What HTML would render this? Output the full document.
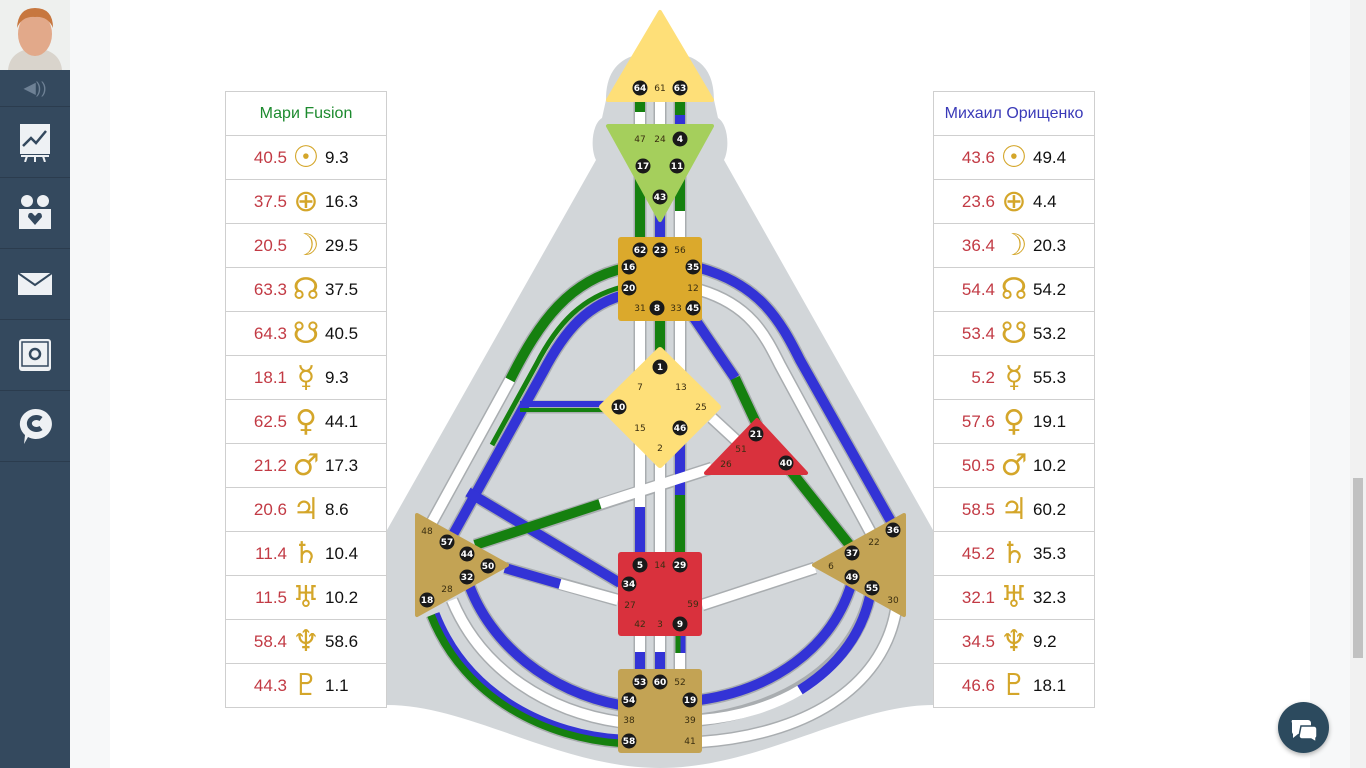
<!DOCTYPE html>
<html><head><meta charset="utf-8"><style>
*{margin:0;padding:0;box-sizing:border-box}
body{width:1366px;height:768px;overflow:hidden;background:#f7f8f9;font-family:"Liberation Sans","DejaVu Sans",sans-serif;position:relative}
#side{position:absolute;left:0;top:0;width:70px;height:768px;background:#34495e}
#photo{position:absolute;left:0;top:0;width:70px;height:70px;background:#eef0ee;overflow:hidden}
.it{position:absolute;left:0;width:70px;border-bottom:1px solid #2b3c4e;display:flex;align-items:center;justify-content:center;color:#eef1f4}
#main{position:absolute;left:110px;top:0;width:1200px;height:768px;background:#fff}
table{position:absolute;border-collapse:collapse;background:#fff}
td{border:1px solid #cfcfcf;height:44px;text-align:center;font-size:17px;white-space:nowrap}
td.h{font-size:16px}
.r{color:#c23a44;display:inline-block;width:44px;text-align:right}
.s{color:#d4a62a;font-family:"DejaVu Sans",sans-serif;font-size:30px;line-height:20px;display:inline-block;width:38px;text-align:center;vertical-align:-4px}
.b{color:#111;display:inline-block;width:44px;text-align:left}
#scroll{position:absolute;right:0;top:0;width:16px;height:768px;background:#f1f1f1}
#thumb{position:absolute;right:3px;top:478px;width:10px;height:180px;background:#c1c1c1}
#chat{position:absolute;left:1278px;top:702px;width:51px;height:51px;border-radius:50%;background:#2c4a5e;box-shadow:0 2px 5px rgba(0,0,0,.3)}
</style></head><body>
<div id="side">
<div id="photo"><svg width="70" height="70"><rect width="70" height="70" fill="#eef0ee"/><path d="M8,70 Q10,50 35,48 Q60,50 62,70Z" fill="#d9d4cc"/><ellipse cx="35" cy="34" rx="17" ry="22" fill="#e2a98a"/><path d="M17,28 Q18,8 35,8 Q53,8 53,28 Q48,16 35,17 Q22,16 17,28Z" fill="#c7773f"/></svg></div>
<div class="it" style="top:70px;height:37px;font-size:16px;color:#6e8195">◀))</div>
<div class="it" style="top:107px;height:71px"><svg width="36" height="40"><rect x="3" y="2" width="30" height="30" fill="#eef1f4"/><path d="M6,24 L14,16 L19,21 L29,9" stroke="#34495e" stroke-width="2.5" fill="none"/><path d="M4,34 H32 M10,34 L8,40 M18,34 V40 M26,34 L28,40" stroke="#eef1f4" stroke-width="2"/></svg></div>
<div class="it" style="top:178px;height:71px"><svg width="36" height="38"><circle cx="10" cy="7" r="6" fill="#eef1f4"/><circle cx="26" cy="7" r="6" fill="#eef1f4"/><rect x="2" y="15" width="32" height="20" fill="#eef1f4"/><path d="M18,31 L11,23 Q11,18 15,19 L18,22 L21,19 Q25,18 25,23Z" fill="#34495e"/></svg></div>
<div class="it" style="top:249px;height:71px"><svg width="34" height="22"><rect width="34" height="22" fill="#eef1f4"/><path d="M0,0 L17,12 L34,0" stroke="#34495e" stroke-width="2" fill="none"/></svg></div>
<div class="it" style="top:320px;height:71px"><svg width="34" height="34"><rect x="1" y="1" width="32" height="32" rx="3" fill="#eef1f4"/><rect x="4" y="4" width="26" height="24" fill="none" stroke="#34495e" stroke-width="1.5"/><circle cx="17" cy="16" r="5" fill="none" stroke="#34495e" stroke-width="2.5"/></svg></div>
<div class="it" style="top:391px;height:71px"><svg width="34" height="38"><path d="M17,2 A16,15 0 1 1 10,30 L6,37 L7,28 A16,15 0 0 1 17,2Z" fill="#eef1f4"/><path d="M23,12 A7,6 0 1 0 23,21" stroke="#34495e" stroke-width="5" fill="none"/></svg></div>
</div>
<div id="main"></div>

<table style="left:225px;top:91px;width:162px">
<tr><td class="h" style="color:#1c8a2e">Мари Fusion</td></tr>
<tr><td><span class="r">40.5</span><span class="s">☉</span><span class="b">9.3</span></td></tr>
<tr><td><span class="r">37.5</span><span class="s">⊕</span><span class="b">16.3</span></td></tr>
<tr><td><span class="r">20.5</span><span class="s">☽</span><span class="b">29.5</span></td></tr>
<tr><td><span class="r">63.3</span><span class="s">☊</span><span class="b">37.5</span></td></tr>
<tr><td><span class="r">64.3</span><span class="s">☋</span><span class="b">40.5</span></td></tr>
<tr><td><span class="r">18.1</span><span class="s">☿</span><span class="b">9.3</span></td></tr>
<tr><td><span class="r">62.5</span><span class="s">♀</span><span class="b">44.1</span></td></tr>
<tr><td><span class="r">21.2</span><span class="s">♂</span><span class="b">17.3</span></td></tr>
<tr><td><span class="r">20.6</span><span class="s">♃</span><span class="b">8.6</span></td></tr>
<tr><td><span class="r">11.4</span><span class="s">♄</span><span class="b">10.4</span></td></tr>
<tr><td><span class="r">11.5</span><span class="s">♅</span><span class="b">10.2</span></td></tr>
<tr><td><span class="r">58.4</span><span class="s">♆</span><span class="b">58.6</span></td></tr>
<tr><td><span class="r">44.3</span><span class="s">♇</span><span class="b">1.1</span></td></tr>
</table>
<table style="left:933px;top:91px;width:162px">
<tr><td class="h" style="color:#3a3ab8">Михаил Орищенко</td></tr>
<tr><td><span class="r">43.6</span><span class="s">☉</span><span class="b">49.4</span></td></tr>
<tr><td><span class="r">23.6</span><span class="s">⊕</span><span class="b">4.4</span></td></tr>
<tr><td><span class="r">36.4</span><span class="s">☽</span><span class="b">20.3</span></td></tr>
<tr><td><span class="r">54.4</span><span class="s">☊</span><span class="b">54.2</span></td></tr>
<tr><td><span class="r">53.4</span><span class="s">☋</span><span class="b">53.2</span></td></tr>
<tr><td><span class="r">5.2</span><span class="s">☿</span><span class="b">55.3</span></td></tr>
<tr><td><span class="r">57.6</span><span class="s">♀</span><span class="b">19.1</span></td></tr>
<tr><td><span class="r">50.5</span><span class="s">♂</span><span class="b">10.2</span></td></tr>
<tr><td><span class="r">58.5</span><span class="s">♃</span><span class="b">60.2</span></td></tr>
<tr><td><span class="r">45.2</span><span class="s">♄</span><span class="b">35.3</span></td></tr>
<tr><td><span class="r">32.1</span><span class="s">♅</span><span class="b">32.3</span></td></tr>
<tr><td><span class="r">34.5</span><span class="s">♆</span><span class="b">9.2</span></td></tr>
<tr><td><span class="r">46.6</span><span class="s">♇</span><span class="b">18.1</span></td></tr>
</table>

<svg style="position:absolute;left:0;top:0" width="1366" height="768" font-family="DejaVu Sans,sans-serif">
<path d="M660,52 C622,52 606,68 606,100 L602,118 C592,124 590,148 596,160 L387,530 L387,705 C470,705 560,768 660,768 C760,768 850,705 933,705 L933,530 L724,160 C730,148 728,124 718,118 L714,100 C714,68 698,52 660,52Z" fill="#d2d6d9"/>
<g fill="none" stroke-linecap="butt">
<g stroke="#a9adb0" stroke-width="13">
<path d="M640,100 V130 M660,100 V130 M680,100 V130"/>
<path d="M640,160 V240 M660,200 V240 M680,160 V240"/>
<path d="M640,320 V400 M660,320 V360 M680,320 V400"/>
<path d="M640,420 V555 M660,450 V555 M680,430 V555"/>
<path d="M640,636 V670 M660,636 V670 M680,636 V670"/>
<path d="M625,268 C570,280 540,320 510,380 L432,522"/>
<path d="M628,294 C588,303 565,330 543,372 L450,540"/>
<path d="M520,407 H612"/>
<path d="M468,492 L620,583"/>
<path d="M475,545 L712,468"/>
<path d="M505,568 L618,600"/>
<path d="M468,582 C490,645 550,692 620,705"/>
<path d="M452,600 C482,672 550,712 620,722"/>
<path d="M432,615 C466,700 550,737 620,742"/>
<path d="M700,268 C760,285 780,320 800,360 L893,525"/>
<path d="M700,290 C750,305 765,335 780,365 L872,535"/>
<path d="M690,312 L735,378 L757,425"/>
<path d="M790,470 L852,548"/>
<path d="M712,418 L738,442"/>
<path d="M702,605 L815,568"/>
<path d="M700,700 C770,690 832,650 852,582"/>
<path d="M700,720 C780,710 852,670 870,596"/>
<path d="M700,742 C802,735 882,690 896,610"/>
</g>
<g stroke-width="10">
<path d="M640,100 V112" stroke="#15800f"/><path d="M640,112 V130" stroke="#fff"/>
<path d="M660,100 V130" stroke="#fff"/>
<path d="M680,100 V115" stroke="#15800f"/><path d="M680,115 V130" stroke="#3333d6"/>
<path d="M640,160 V240" stroke="#15800f"/>
<path d="M660,200 V240" stroke="#3333d6"/>
<path d="M680,160 V211" stroke="#15800f"/><path d="M680,211 V240" stroke="#fff"/>
<path d="M640,320 V400" stroke="#fff"/>
<path d="M660,320 V360" stroke="#15800f"/>
<path d="M680,320 V400" stroke="#fff"/>
<path d="M640,420 V507" stroke="#fff"/><path d="M640,507 V555" stroke="#3333d6"/>
<path d="M660,450 V555" stroke="#fff"/>
<path d="M680,440 V495" stroke="#3333d6"/><path d="M680,495 V555" stroke="#15800f"/>
<path d="M640,636 V652" stroke="#fff"/><path d="M640,652 V670" stroke="#3333d6"/>
<path d="M660,636 V652" stroke="#fff"/><path d="M660,652 V670" stroke="#3333d6"/>
<path d="M678,636 V653" stroke="#15800f" stroke-width="5"/><path d="M683,636 V653" stroke="#3333d6" stroke-width="5"/><path d="M680,653 V670" stroke="#fff"/>
<path d="M625,268 C570,280 540,320 510,380" stroke="#15800f"/><path d="M510,380 L432,522" stroke="#fff"/>
<path d="M628,294 C588,303 565,330 543,372 L450,540" stroke="#3333d6"/>
<path d="M622,287 C583,297 558,322 536,365 L492,445" stroke="#15800f" stroke-width="5"/>
<path d="M520,404 H612" stroke="#3333d6" stroke-width="6"/><path d="M520,410 H612" stroke="#15800f" stroke-width="4"/>
<path d="M468,492 L620,583" stroke="#3333d6"/>
<path d="M475,545 L600,504" stroke="#15800f"/><path d="M600,504 L712,468" stroke="#fff"/>
<path d="M505,568 L560,584" stroke="#3333d6"/><path d="M560,584 L618,600" stroke="#fff"/>
<path d="M468,582 C490,645 550,692 620,705" stroke="#3333d6"/>
<path d="M452,600 C482,672 550,712 620,722" stroke="#fff"/>
<path d="M432,615 C466,700 550,737 620,742" stroke="#15800f"/>
<path d="M437,613 C470,697 552,733 620,737" stroke="#3333d6" stroke-width="5"/>
<path d="M700,268 C760,285 780,320 800,360 L893,525" stroke="#3333d6"/>
<path d="M700,290 C750,305 765,335 780,365 L872,535" stroke="#fff"/>
<path d="M690,312 L735,378" stroke="#3333d6"/><path d="M735,378 L757,425" stroke="#15800f"/>
<path d="M790,470 L852,548" stroke="#15800f"/>
<path d="M712,418 L738,442" stroke="#fff"/>
<path d="M702,605 L815,568" stroke="#fff"/>
<path d="M700,700 C770,690 832,650 852,582" stroke="#3333d6"/>
<path d="M700,720 C740,717 775,705 800,690" stroke="#fff"/><path d="M800,690 C840,665 862,632 870,596" stroke="#3333d6"/>
<path d="M700,742 C802,735 882,690 896,610" stroke="#fff"/>
</g></g>
<g stroke-linejoin="round">
<path d="M660,12 L712,100 L608,100Z" fill="#fedf78" stroke="#fedf78" stroke-width="4"/>
<path d="M608,126 L712,126 L660,220Z" fill="#a5cf5c" stroke="#a5cf5c" stroke-width="4"/>
<rect x="618" y="237" width="84" height="84" rx="3" fill="#dba92c"/>
<path d="M660,350 L718,407 L660,465 L602,407Z" fill="#fedf78" stroke="#fedf78" stroke-width="6"/>
<path d="M757,420 L806,473 L706,473Z" fill="#d9313d" stroke="#d9313d" stroke-width="4"/>
<rect x="618" y="552" width="84" height="84" rx="3" fill="#d9313d"/>
<rect x="618" y="669" width="84" height="84" rx="3" fill="#c3a354"/>
<path d="M417,515 L507,565 L417,615Z" fill="#c3a354" stroke="#c3a354" stroke-width="4"/>
<path d="M904,515 L814,565 L904,615Z" fill="#c3a354" stroke="#c3a354" stroke-width="4"/>
</g>
<g font-size="9" font-weight="bold" text-anchor="middle">
<g fill="#1a1a1a">
<circle cx="640" cy="88" r="7.5"/><circle cx="680" cy="88" r="7.5"/><circle cx="680" cy="139" r="7.5"/><circle cx="643" cy="166" r="7.5"/><circle cx="677" cy="166" r="7.5"/><circle cx="660" cy="197" r="7.5"/>
<circle cx="640" cy="250" r="7.5"/><circle cx="660" cy="250" r="7.5"/><circle cx="629" cy="267" r="7.5"/><circle cx="693" cy="267" r="7.5"/><circle cx="629" cy="288" r="7.5"/><circle cx="657" cy="308" r="7.5"/><circle cx="693" cy="308" r="7.5"/>
<circle cx="660" cy="367" r="7.5"/><circle cx="619" cy="407" r="7.5"/><circle cx="680" cy="428" r="7.5"/>
<circle cx="756" cy="434" r="7.5"/><circle cx="786" cy="463" r="7.5"/>
<circle cx="640" cy="565" r="7.5"/><circle cx="680" cy="565" r="7.5"/><circle cx="629" cy="584" r="7.5"/><circle cx="680" cy="624" r="7.5"/>
<circle cx="640" cy="682" r="7.5"/><circle cx="660" cy="682" r="7.5"/><circle cx="629" cy="700" r="7.5"/><circle cx="690" cy="700" r="7.5"/><circle cx="629" cy="741" r="7.5"/>
<circle cx="447" cy="542" r="7.5"/><circle cx="467" cy="554" r="7.5"/><circle cx="488" cy="566" r="7.5"/><circle cx="467" cy="577" r="7.5"/><circle cx="427" cy="600" r="7.5"/>
<circle cx="893" cy="530" r="7.5"/><circle cx="852" cy="553" r="7.5"/><circle cx="852" cy="577" r="7.5"/><circle cx="872" cy="588" r="7.5"/>
</g>
<g fill="#fff">
<text x="640" y="91">64</text><text x="680" y="91">63</text><text x="680" y="142">4</text><text x="643" y="169">17</text><text x="677" y="169">11</text><text x="660" y="200">43</text>
<text x="640" y="253">62</text><text x="660" y="253">23</text><text x="629" y="270">16</text><text x="693" y="270">35</text><text x="629" y="291">20</text><text x="657" y="311">8</text><text x="693" y="311">45</text>
<text x="660" y="370">1</text><text x="619" y="410">10</text><text x="680" y="431">46</text>
<text x="756" y="437">21</text><text x="786" y="466">40</text>
<text x="640" y="568">5</text><text x="680" y="568">29</text><text x="629" y="587">34</text><text x="680" y="627">9</text>
<text x="640" y="685">53</text><text x="660" y="685">60</text><text x="629" y="703">54</text><text x="690" y="703">19</text><text x="629" y="744">58</text>
<text x="447" y="545">57</text><text x="467" y="557">44</text><text x="488" y="569">50</text><text x="467" y="580">32</text><text x="427" y="603">18</text>
<text x="893" y="533">36</text><text x="852" y="556">37</text><text x="852" y="580">49</text><text x="872" y="591">55</text>
</g>
<g fill="#3a2e10" font-weight="normal">
<text x="660" y="91">61</text><text x="640" y="142">47</text><text x="660" y="142">24</text>
<text x="680" y="253">56</text><text x="693" y="291">12</text><text x="640" y="311">31</text><text x="676" y="311">33</text>
<text x="640" y="390">7</text><text x="681" y="390">13</text><text x="701" y="410">25</text><text x="640" y="431">15</text><text x="660" y="451">2</text>
<text x="741" y="452">51</text><text x="726" y="467">26</text>
<text x="660" y="568">14</text><text x="630" y="608">27</text><text x="693" y="607">59</text><text x="640" y="627">42</text><text x="660" y="627">3</text>
<text x="680" y="685">52</text><text x="629" y="723">38</text><text x="690" y="723">39</text><text x="690" y="744">41</text>
<text x="427" y="534">48</text><text x="447" y="592">28</text>
<text x="874" y="545">22</text><text x="831" y="569">6</text><text x="893" y="603">30</text>
</g></g>
</svg>
<div id="scroll"><div id="thumb"></div></div>
<div id="chat"><svg width="51" height="51"><path d="M14,18 h16 a3,3 0 0 1 3,3 v8 a3,3 0 0 1 -3,3 h-10 l-5,4 v-4 a3,3 0 0 1 -1,-2 v-9 a3,3 0 0 1 0,-3Z" fill="#fff"/><path d="M23,24 h13 a3,3 0 0 1 3,3 v7 a3,3 0 0 1 -1,2 v4 l-5,-3 h-9 a3,3 0 0 1 -3,-3Z" fill="#fff" stroke="#2c4a5e" stroke-width="1.5"/></svg></div>
</body></html>
